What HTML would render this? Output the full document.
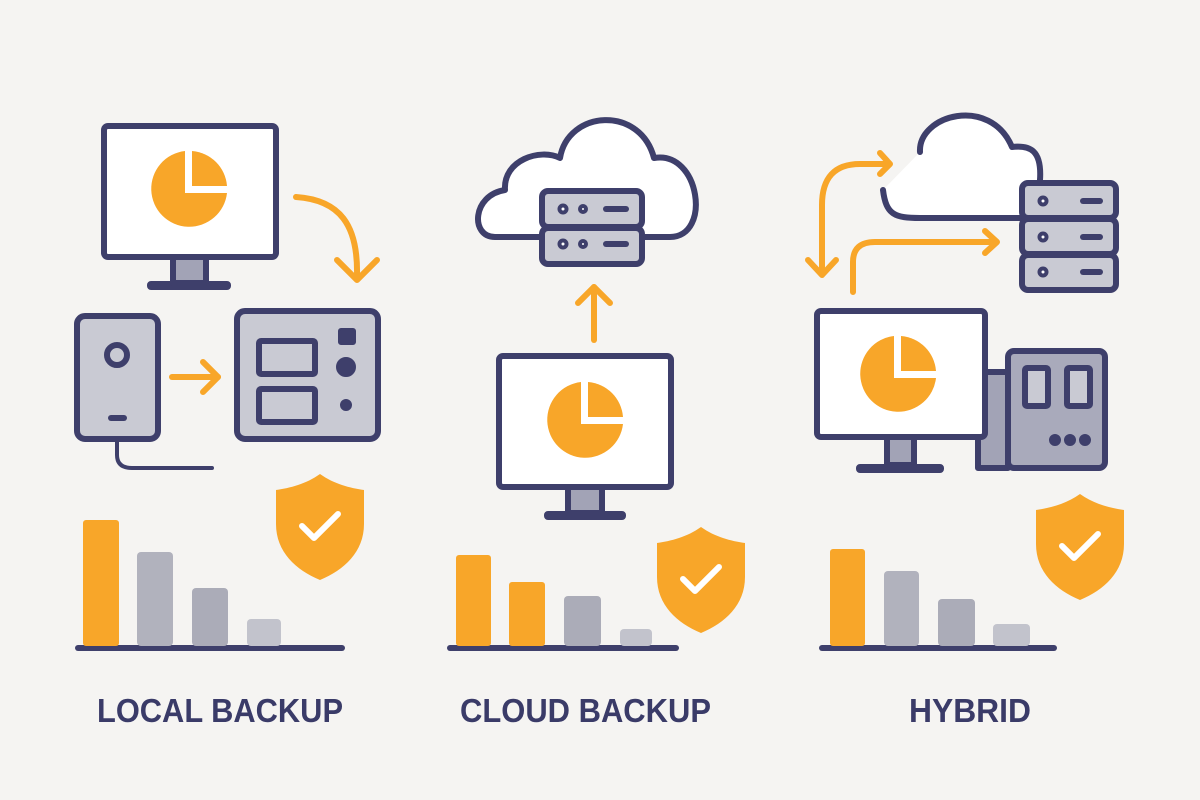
<!DOCTYPE html>
<html><head><meta charset="utf-8"><style>
html,body{margin:0;padding:0;background:#f5f4f2;}
svg{display:block}
text{font-family:"Liberation Sans",sans-serif;font-weight:bold;fill:#3a3b68}
</style></head><body>
<svg width="1200" height="800" viewBox="0 0 1200 800" xmlns="http://www.w3.org/2000/svg">
<rect width="1200" height="800" fill="#f5f4f2"/>
<defs>
<g id="shield">
<path d="M0,-52 C14,-42 30,-38 44,-36 L44,-2 C44,26 24,44 0,54 C-24,44 -44,26 -44,-2 L-44,-36 C-30,-38 -14,-42 0,-52 Z" fill="#f8a629"/>
<path d="M-18,0 L-6,12 L18,-12" fill="none" stroke="#fff" stroke-width="6" stroke-linecap="round" stroke-linejoin="round"/>
</g>
<g id="pie">
<path d="M-4,-38 A38,38 0 1 0 38,4 L-4,4 Z" fill="#f8a629"/>
<path d="M3,-38 A38,38 0 0 1 38,-3 L3,-3 Z" fill="#f8a629"/>
</g>
</defs>
<g stroke="#3e3f6b" stroke-width="6" stroke-linejoin="round" stroke-linecap="round">
<!-- LOCAL -->
<rect x="148" y="282" width="82" height="7" rx="3" fill="#3e3f6b" stroke-width="2"/>
<rect x="173" y="257" width="33" height="26" fill="#a2a3b6"/>
<rect x="104" y="126" width="172" height="131" rx="4" fill="#fff"/>
<rect x="77" y="316" width="81" height="123" rx="8" fill="#c9cad3"/>
<circle cx="117" cy="355" r="10" fill="#c9cad3"/>
<line x1="111" y1="418" x2="124" y2="418"/>
<path d="M117,440 L117,455 Q117,468 132,468 L212,468" fill="none" stroke-width="4"/>
<rect x="237" y="311" width="141" height="128" rx="8" fill="#c9cad3"/>
<rect x="259" y="341" width="56" height="33" rx="2" fill="#c9cad3"/>
<rect x="259" y="389" width="56" height="33" rx="2" fill="#c9cad3"/>
<rect x="339" y="329" width="16" height="15" rx="2" fill="#3e3f6b" stroke-width="2"/>
<circle cx="346" cy="367" r="9" fill="#3e3f6b" stroke-width="2"/>
<circle cx="346" cy="405" r="5" fill="#3e3f6b" stroke-width="2"/>
<line x1="78" y1="648" x2="342" y2="648"/>
<!-- CLOUD -->
<path d="M495,237 C470,237 472,195 505,190 C503,160 540,148 560,158 C568,110 640,105 654,158 C700,150 712,237 670,237 Z" fill="#fff"/>
<rect x="542" y="191" width="100" height="36" rx="6" fill="#c9cad3"/>
<rect x="542" y="228" width="100" height="36" rx="6" fill="#c9cad3"/>
<circle cx="563" cy="209" r="3.5" fill="#fff" stroke-width="4"/><circle cx="583" cy="209" r="3" fill="#fff" stroke-width="4"/>
<line x1="606" y1="209" x2="626" y2="209"/>
<circle cx="563" cy="244" r="3.5" fill="#fff" stroke-width="4"/><circle cx="583" cy="244" r="3" fill="#fff" stroke-width="4"/>
<line x1="606" y1="244" x2="626" y2="244"/>
<rect x="545" y="512" width="80" height="7" rx="3" fill="#3e3f6b" stroke-width="2"/>
<rect x="568" y="487" width="34" height="26" fill="#a2a3b6"/>
<rect x="499" y="356" width="172" height="131" rx="4" fill="#fff"/>
<line x1="450" y1="648" x2="676" y2="648"/>
<!-- HYBRID -->
<path d="M883,190 C886,215 895,218 920,218 L1040,218 L1040,180 C1042,150 1030,145 1012,147 C990,95 918,115 920,152" fill="#fff"/>
<rect x="1022" y="183" width="94" height="35" rx="6" fill="#c9cad3"/>
<rect x="1022" y="219" width="94" height="35" rx="6" fill="#c9cad3"/>
<rect x="1022" y="255" width="94" height="35" rx="6" fill="#c9cad3"/>
<circle cx="1043" cy="201" r="3.5" fill="#fff" stroke-width="4"/><line x1="1083" y1="201" x2="1100" y2="201"/>
<circle cx="1043" cy="237" r="3.5" fill="#fff" stroke-width="4"/><line x1="1083" y1="237" x2="1100" y2="237"/>
<circle cx="1043" cy="272" r="3.5" fill="#fff" stroke-width="4"/><line x1="1083" y1="272" x2="1100" y2="272"/>
<rect x="978" y="372" width="30" height="96" fill="#a2a3b6"/>
<rect x="1008" y="351" width="97" height="117" rx="6" fill="#a9aabb"/>
<rect x="1025" y="368" width="23" height="38" rx="2" fill="#c9cad3"/>
<rect x="1067" y="368" width="23" height="38" rx="2" fill="#c9cad3"/>
<circle cx="1055" cy="440" r="3" fill="#3e3f6b"/><circle cx="1070" cy="440" r="3" fill="#3e3f6b"/><circle cx="1085" cy="440" r="3" fill="#3e3f6b"/>
<rect x="857" y="465" width="86" height="7" rx="3" fill="#3e3f6b" stroke-width="2"/>
<rect x="887" y="437" width="27" height="28" fill="#a2a3b6"/>
<rect x="817" y="311" width="168" height="126" rx="4" fill="#fff"/>
<line x1="822" y1="648" x2="1054" y2="648"/>
</g>
<use href="#pie" x="189" y="189"/>
<use href="#pie" x="585" y="420"/>
<use href="#pie" x="898" y="374"/>
<!-- orange arrows -->
<g stroke="#f8a629" stroke-width="6" fill="none" stroke-linecap="round" stroke-linejoin="round">
<path d="M296,197 C340,200 358,225 357,275"/>
<path d="M337,260 L357,280 L377,260"/>
<path d="M172,377 L218,377"/><path d="M203,362 L218,377 L203,392"/>
<path d="M594,340 L594,287"/><path d="M578,303 L594,287 L610,303"/>
<path d="M822,272 L822,205 Q822,164 860,164 L886,164"/><path d="M880,153 L890,164 L880,174"/>
<path d="M808,260 L822,275 L836,260"/>
<path d="M853,292 L853,262 Q853,242 875,242 L995,242"/><path d="M985,231 L997,242 L985,253"/>
</g>
<use href="#shield" x="320" y="526"/>
<use href="#shield" x="701" y="579"/>
<use href="#shield" x="1080" y="546"/>
<!-- bars -->
<g>
<rect x="83" y="520" width="36" height="126" rx="3" fill="#f8a629"/>
<rect x="137" y="552" width="36" height="94" rx="4" fill="#b1b2bd"/>
<rect x="192" y="588" width="36" height="58" rx="4" fill="#abacb8"/>
<rect x="247" y="619" width="34" height="27" rx="4" fill="#c2c3cc"/>
<rect x="456" y="555" width="35" height="91" rx="3" fill="#f8a629"/>
<rect x="509" y="582" width="36" height="64" rx="3" fill="#f8a629"/>
<rect x="564" y="596" width="37" height="50" rx="4" fill="#abacb8"/>
<rect x="620" y="629" width="32" height="17" rx="4" fill="#c2c3cc"/>
<rect x="830" y="549" width="35" height="97" rx="3" fill="#f8a629"/>
<rect x="884" y="571" width="35" height="75" rx="4" fill="#b1b2bd"/>
<rect x="938" y="599" width="37" height="47" rx="4" fill="#abacb8"/>
<rect x="993" y="624" width="37" height="22" rx="4" fill="#c2c3cc"/>
</g>
<text x="97" y="722" font-size="33" textLength="246" lengthAdjust="spacingAndGlyphs">LOCAL BACKUP</text>
<text x="460" y="722" font-size="33" textLength="251" lengthAdjust="spacingAndGlyphs">CLOUD BACKUP</text>
<text x="909" y="722" font-size="33" textLength="122" lengthAdjust="spacingAndGlyphs">HYBRID</text>
</svg>
</body></html>
